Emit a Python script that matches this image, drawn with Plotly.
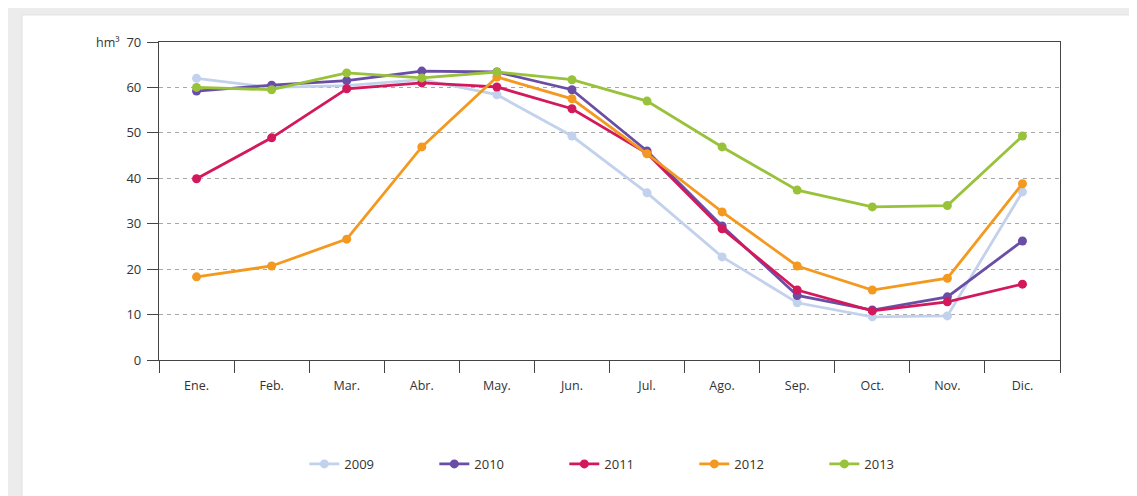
import plotly.graph_objects as go

months = ["Ene.", "Feb.", "Mar.", "Abr.", "May.", "Jun.", "Jul.", "Ago.", "Sep.", "Oct.", "Nov.", "Dic."]
years = ["2009", "2010", "2011", "2012", "2013"]

v2009 = [62.0, 60.0, 60.4, 61.7, 58.4, 49.3, 36.8, 22.7, 12.6, 9.5, 9.7, 37.0]
v2010 = [59.2, 60.5, 61.5, 63.6, 63.4, 59.5, 46.0, 29.5, 14.2, 11.0, 13.9, 26.2]
v2011 = [39.9, 48.9, 59.7, 61.0, 60.1, 55.3, 45.5, 28.9, 15.4, 10.8, 12.8, 16.7]
v2012 = [18.3, 20.7, 26.6, 46.9, 62.3, 57.5, 45.4, 32.6, 20.7, 15.4, 18.0, 38.8]
v2013 = [60.0, 59.5, 63.2, 62.1, 63.4, 61.7, 57.0, 46.9, 37.4, 33.7, 34.0, 49.3]

series = [v2009, v2010, v2011, v2012, v2013]
colors = ["#c3d2ec", "#6a4ea6", "#d3185c", "#f4991f", "#98c23a"]
yticks = [0, 10, 20, 30, 40, 50, 60, 70]

fig = go.Figure()
for name, vals, col in zip(years, series, colors):
    fig.add_trace(go.Scatter(
        x=months, y=vals, name=name, mode="lines+markers",
        line=dict(color=col, width=2.8),
        marker=dict(color=col, size=9),
    ))

# grey frame around the white panel
fig.add_shape(type="rect", xref="paper", yref="paper",
              x0=-0.152, x1=1.2, y0=-0.43, y1=1.085,
              fillcolor="white", line=dict(color="#e2e2e2", width=1), layer="below")

fig.add_annotation(text="hm³", xref="paper", yref="paper", x=-0.041, y=1.0,
                   xanchor="right", yanchor="middle", showarrow=False,
                   font=dict(size=12.5, color="#333333"))

# the page body adds 8px, so margins are shifted back by that much
fig.update_layout(
    width=1137, height=496,
    margin=dict(l=151, r=85, t=34, b=144),
    paper_bgcolor="#ececec", plot_bgcolor="rgba(0,0,0,0)",
    font=dict(family="Open Sans", size=12, color="#333333"),
    showlegend=True,
    legend=dict(orientation="h", x=0.522, xanchor="center", y=-0.327, yanchor="middle",
                entrywidth=85, font=dict(size=13, color="#333333"),
                bgcolor="rgba(0,0,0,0)"),
)
fig.update_xaxes(
    type="category", tickson="boundaries", ticks="outside", ticklen=12,
    tickcolor="#444444", showline=True, linecolor="#444444", linewidth=1.2,
    mirror=True, showgrid=False, zeroline=False, range=[-0.5, 11.5],
    ticklabelstandoff=14, tickfont=dict(size=12.5),
)
fig.update_yaxes(
    range=[0, 70], tickvals=yticks, ticks="outside", ticklen=11,
    tickcolor="#444444", showline=True, linecolor="#444444", linewidth=1.2,
    mirror=True, showgrid=True, gridcolor="#a8a8a8", griddash="4px,4px",
    gridwidth=1, zeroline=False, tickfont=dict(size=13), ticklabelstandoff=3,
)

fig.write_html("out.html")
